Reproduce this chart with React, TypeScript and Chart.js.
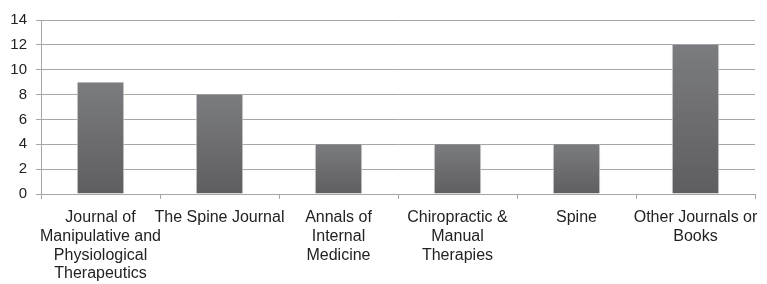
import React, { useEffect, useRef } from "react";
import { Chart, registerables } from "chart.js";

Chart.register(...registerables);

const categories: (string | string[])[] = [
  ["Journal of", "Manipulative and", "Physiological", "Therapeutics"],
  "The Spine Journal",
  ["Annals of", "Internal", "Medicine"],
  ["Chiropractic &", "Manual", "Therapies"],
  "Spine",
  ["Other Journals or", "Books"],
];
const counts = [9, 8, 4, 4, 4, 12];
const yMin = 0;
const yMax = 14;
const yStep = 2;

export default function App() {
  const ref = useRef<HTMLCanvasElement | null>(null);
  useEffect(() => {
    document.body.style.margin = "0";
    const canvas = ref.current;
    if (!canvas) return;
    const chart = new Chart(canvas, {
      type: "bar",
      data: {
        labels: categories,
        datasets: [
          {
            data: counts,
            backgroundColor: (ctx: any) => {
              const c = ctx.chart;
              const y = c.scales?.y;
              if (!c.chartArea || !y || ctx.raw == null) return "#6b6c6e";
              const top = y.getPixelForValue(ctx.raw);
              const bottom = y.getPixelForValue(0);
              if (!isFinite(top) || !isFinite(bottom) || top === bottom) return "#6b6c6e";
              const g = c.ctx.createLinearGradient(0, top, 0, bottom);
              g.addColorStop(0, "#7b7c7f");
              g.addColorStop(1, "#5e5e60");
              return g;
            },
            borderColor: "#d8d8d8",
            borderWidth: { left: 1, right: 1, top: 0, bottom: 0 },
            barPercentage: 0.4,
            categoryPercentage: 1,
          },
        ],
      },
      options: {
        responsive: false,
        animation: false,
        devicePixelRatio: 1,
        layout: { padding: { top: 20, right: 12, left: 0, bottom: 0 } },
        plugins: { legend: { display: false }, tooltip: { enabled: false } },
        scales: {
          x: {
            grid: {
              display: true,
              drawOnChartArea: false,
              drawTicks: true,
              tickLength: 5,
              color: "#a6a6a6",
              offset: true,
            },
            border: { display: true, color: "#a6a6a6" },
            ticks: {
              autoSkip: false,
              maxRotation: 0,
              minRotation: 0,
              color: "#222222",
              font: { family: "'Liberation Sans', Arial, sans-serif", size: 16, lineHeight: 1.18 },
              padding: 9,
            },
            afterFit: (s: any) => {
              s.height = 90;
              s.paddingLeft = 0;
              s.paddingRight = 0;
            },
          },
          y: {
            min: yMin,
            max: yMax,
            ticks: {
              stepSize: yStep,
              color: "#222222",
              font: { family: "'Liberation Sans', Arial, sans-serif", size: 15 },
              padding: 9,
            },
            grid: {
              color: "#a6a6a6",
              tickLength: 5,
              drawTicks: true,
            },
            border: { display: true, color: "#a6a6a6" },
            afterFit: (s: any) => {
              s.width = 41;
            },
          },
        },
      },
    } as any);
    return () => chart.destroy();
  }, []);
  return (
    <div style={{ width: 767, height: 284 }}>
      <canvas ref={ref} width={767} height={284} />
    </div>
  );
}
